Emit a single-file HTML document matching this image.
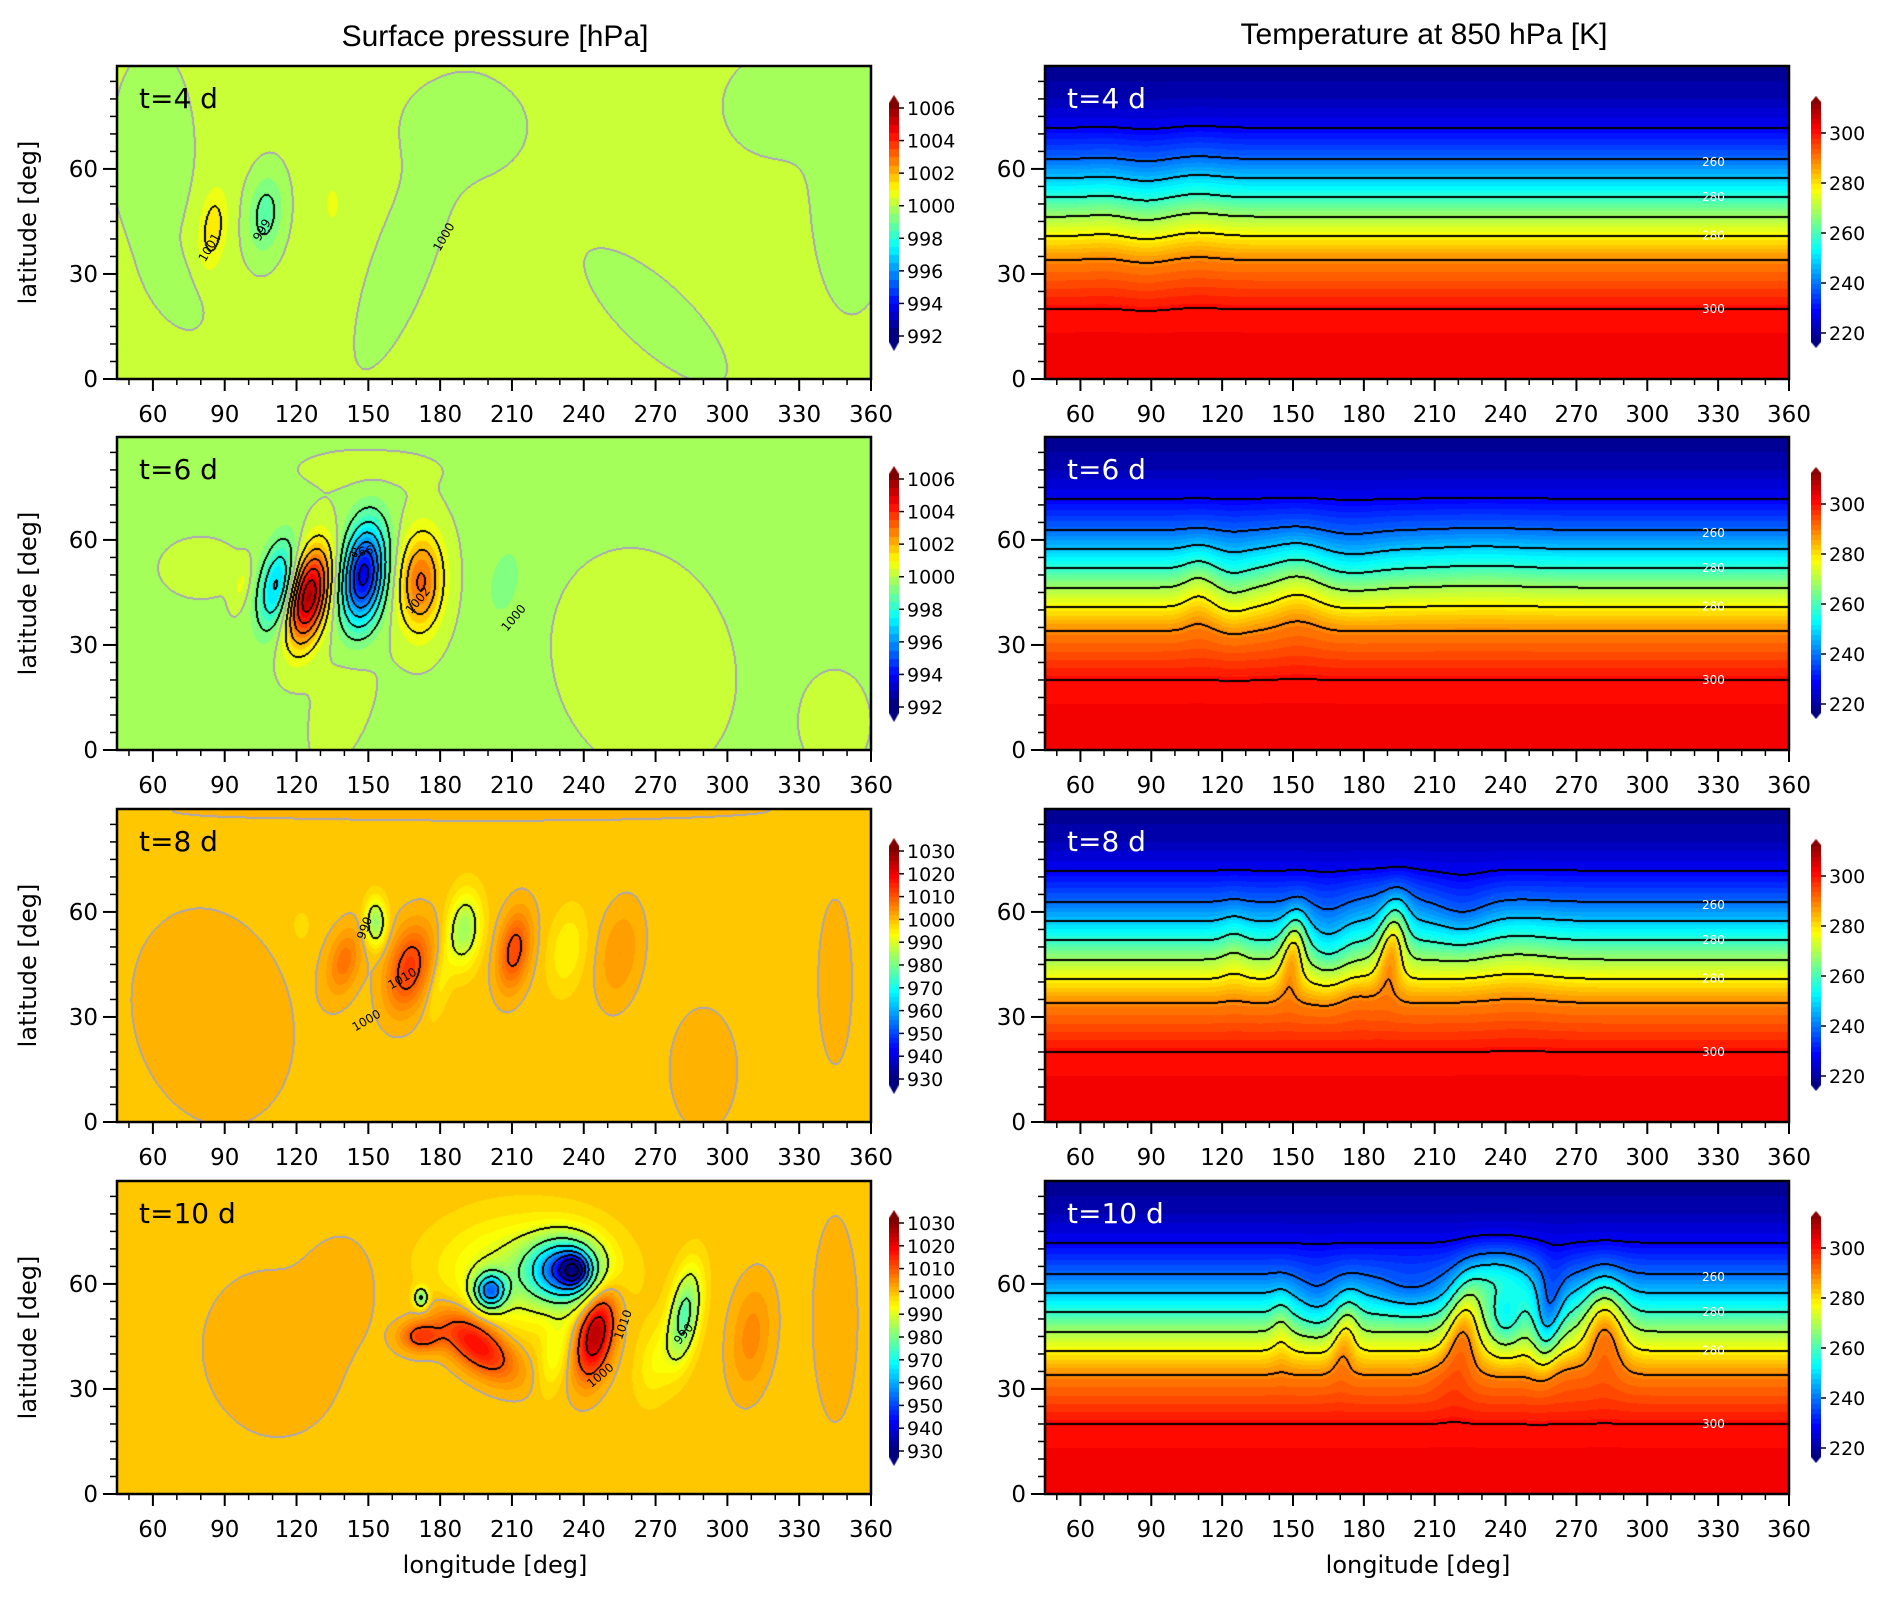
<!DOCTYPE html>
<html>
<head>
<meta charset="utf-8">
<style>
html,body{margin:0;padding:0;background:#fff;}
#fig{position:relative;width:1892px;height:1598px;overflow:hidden;background:#fff;font-family:"DejaVu Sans","Liberation Sans",sans-serif;}
canvas{position:absolute;}
svg{position:absolute;left:0;top:0;}
</style>
</head>
<body>
<div id="fig">
<svg id="ov" width="1892" height="1598"></svg>
</div>
<script>
// ---------- data ----------
const lonTicks = [60,90,120,150,180,210,240,270,300,330,360];
const latTicks = [0,30,60];
const dayLabels = ["t=4 d","t=6 d","t=8 d","t=10 d"];
const pBarTicksSmall = [992,994,996,998,1000,1002,1004,1006];
const pBarTicksLarge = [930,940,950,960,970,980,990,1000,1010,1020,1030];
const tBarTicks = [220,240,260,280,300];
// pressure anomaly features: [lon, lat, amplitude hPa, sigmaLon, sigmaLat, tiltDeg]
const pBase = [1000.12, 999.9, 999, 999];
const pFeat4d = [[85,43,1.25,4,8,10],[107,47,-1.45,5,8,10],[135,50,0.5,3,5,0],[60,65,-0.35,12,20,0],[190,72,-0.35,18,10,0],[165,35,-0.35,8,25,30],[270,18,-0.3,25,8,30],[352,55,-0.35,12,25,0],[320,78,-0.35,15,10,0],[70,25,-0.3,10,6,40]];
const pFeat6d = [[97,47,0.65,2.5,5,20],[112,47,-3.2,5,9,20],[125,44,5.8,5.5,10,20],[148,50,-6.2,6,10,12],[172,48,3.2,6.5,10,5],[207,48,-0.7,5,8,20],[265,25,0.35,25,20,20],[150,80,0.3,20,4,0],[140,15,0.3,8,15,30],[80,52,0.3,12,6,0],[345,8,0.3,10,10,0]];
const pFeat8d = [[153,57,-16,3,4.5,0],[140,46,8,4.5,7,25],[167,44,14,6,9,25],[190,55,-15,4.5,7,10],[211,49,13,4.5,8,15],[233,49,-5,5,8,15],[255,48,5,6,10,15],[122,56,-3,2.5,3,0],[180,40,-4,3,8,20],[85,30,2,30,25,30],[290,15,2,12,15,0],[345,40,2,6,20,0],[200,89,2,100,2.5,0]];
const pFeat10d = [[232,64,-42,10,6,0],[236,64,-28,4,3,0],[201,58,-38,4.5,3.5,0],[215,63,-12,22,10,0],[172,56,-20,2,2,0],[195,43,20,12,5,25],[172,45,14,6,3,0],[245,46,28,5,9,20],[282,51,-22,4,9,15],[310,45,6,6,11,10],[270,38,-5,5,8,20],[228,40,-6,4,8,20],[110,40,2,25,20,10],[345,50,2,8,25,0],[140,60,2,10,10,0]];
// temperature background profile
const tProfLat = [0,19.9,34,40.9,46.4,51.9,57.4,62.9,71.8,80,90];
const tProfVal = [304,301,289,278,269,258,248,239,228,222,218];
const tLineLevels = [301,289,278,269,258,248,239,228];
// meridional displacement features: [lon, lat, shift deg, sigmaLon, sigmaLat, tilt]
const tFeat4d = [[70,45,0.5,6,20,0],[88,45,-1,7,20,0],[110,48,1,8,20,0]];
const tFeat6d = [[110,45,3,5,10,0],[125,45,-1.5,5,12,0],[152,45,3.5,8,12,0],[175,55,-1.5,10,10,0],[230,55,0.8,15,10,0]];
const tFeat8d = [[125,50,2,4,10,0],[150,49,11,3.5,8,10],[165,50,-4,6,10,0],[192,51,13,4,9,10],[177,35,2,6,5,0],[222,60,-3,8,8,0],[245,45,1.5,12,15,0],[190,65,2,10,5,0]];
const tFeat10d = [[145,48,3,3,8,0],[172,45,7,3.5,8,10],[160,55,-4,6,8,0],[222,47,12,5,11,10],[238,62,10,10,7,0],[212,33,2,5,4,0],[282,48,13,6,10,0],[268,33,2,6,4,0],[258,50,-10,4,10,10],[200,58,-4,10,5,0],[240,50,-6,5,8,0]];
const pLabels = [
 [["1001",85,37,-60],["999",107,42,-60],["1000",183,40,-60]],
 [["998",147,58,170],["1002",172,42,-50],["1000",212,37,-50]],
 [["990",150,55,-70],["1010",165,40,-30],["1000",150,28,-30]],
 [["1010",258,48,-70],["990",283,45,-50],["1000",248,33,-40]]];
const tLabelText = ["260","280","280","300"];
const tLabelLat = [62,52,41,20];

// ---------- layout ----------
const ROWS=[66,437,809,1181], H=313, LATMAX=89.4, LON0=45, LON1=360;
const LX=117, LW=754, RX=1045, RW=744;
const fig=document.getElementById('fig'), ov=document.getElementById('ov');
const NS='http://www.w3.org/2000/svg';
function xS(x0,w,lon){return x0+(lon-LON0)/(LON1-LON0)*w;}
function yS(y0,lat){return y0+H-lat/LATMAX*H;}
function jet(x){x=Math.max(0,Math.min(1,x));const c=v=>Math.round(255*Math.max(0,Math.min(1,v)));
 return [c(1.5-Math.abs(4*x-3)),c(1.5-Math.abs(4*x-2)),c(1.5-Math.abs(4*x-1))];}
function featSum(f,lon,lat){let s=0;for(const q of f){const t=q[5]*Math.PI/180,dx=lon-q[0],dy=lat-q[1];
 const u=dx*Math.cos(t)-dy*Math.sin(t),w=dx*Math.sin(t)+dy*Math.cos(t);s+=q[2]*Math.exp(-0.5*(u*u/(q[3]*q[3])+w*w/(q[4]*q[4])));}return s;}
function prof(lat){if(lat<=tProfLat[0])return tProfVal[0];for(let i=1;i<tProfLat.length;i++){if(lat<=tProfLat[i]){const f=(lat-tProfLat[i-1])/(tProfLat[i]-tProfLat[i-1]);return tProfVal[i-1]+f*(tProfVal[i]-tProfVal[i-1]);}}return tProfVal[tProfVal.length-1];}
function el(tag,attrs,text){const e=document.createElementNS(NS,tag);for(const k in attrs)e.setAttribute(k,attrs[k]);if(text!==undefined)e.textContent=text;ov.appendChild(e);return e;}

function renderField(x0,y0,w,valFn,colFn,kFn,grayK,name){
 const cv=document.createElement('canvas');cv.width=w;cv.height=H;cv.style.left=x0+'px';cv.style.top=y0+'px';
 
 
 fig.insertBefore(cv,ov);
 const ctx=cv.getContext('2d'),img=ctx.createImageData(w,H),d=img.data;
 const V=new Float32Array(w*H),K=new Int32Array(w*H);
 for(let py=0;py<H;py++){const lat=(H-py-0.5)/H*LATMAX;for(let px=0;px<w;px++){const lon=LON0+(px+0.5)/w*(LON1-LON0);const v=valFn(lon,lat);V[py*w+px]=v;K[py*w+px]=kFn(v);}}
 for(let i=0;i<w*H;i++){const c=colFn(V[i]);d[4*i]=c[0];d[4*i+1]=c[1];d[4*i+2]=c[2];d[4*i+3]=255;}
 const mark=(i,gray)=>{if(gray){d[4*i]=170;d[4*i+1]=165;d[4*i+2]=185;}else{d[4*i]=0;d[4*i+1]=0;d[4*i+2]=0;}};
 for(let py=0;py<H;py++)for(let px=0;px<w;px++){const i=py*w+px,k=K[i];
  if(px<w-1&&K[i+1]!==k){const g=Math.max(k,K[i+1])===grayK;mark(i,g);mark(i+1,g);}
  if(py<H-1&&K[i+w]!==k){const g=Math.max(k,K[i+w])===grayK;mark(i,g);mark(i+w,g);}}
 ctx.putImageData(img,0,0);
}

function axes(x0,y0,w,showYTitle,label,labelColor,prefix){
 for(let lon=50;lon<=360;lon+=10){const major=lon%30===0;const x=xS(x0,w,lon);
  const t=el('line',{x1:x,x2:x,y1:y0+H,y2:y0+H+(major?12:6),stroke:'#000','stroke-width':major?2:1.5});
  
  }
 for(let lat=0;lat<=85;lat+=5){const major=lat%30===0;const y=yS(y0,lat);
  const t=el('line',{x1:x0-(major?14:7),x2:x0,y1:y,y2:y,stroke:'#000','stroke-width':major?2:1.5});
  
  }
 for(const lon of lonTicks){const t=el('text',{x:xS(x0,w,lon),y:y0+H+43,'text-anchor':'middle','font-size':23,'font-family':'DejaVu Sans, Liberation Sans, sans-serif'},String(lon));
  
  }
 for(const lat of latTicks){const t=el('text',{x:x0-19,y:yS(y0,lat)+8,'text-anchor':'end','font-size':23,'font-family':'DejaVu Sans, Liberation Sans, sans-serif'},String(lat));
  
  }
 const r=el('rect',{x:x0,y:y0,width:w,height:H,fill:'none',stroke:'#000','stroke-width':2.5});
 
 
 const tl=el('text',{x:x0+22,y:y0+42,'font-size':28,fill:labelColor,'font-family':'DejaVu Sans, Liberation Sans, sans-serif'},label);
 
 
 if(showYTitle){const yt=el('text',{x:0,y:0,transform:`translate(36,${y0+H/2}) rotate(-90)`,'text-anchor':'middle','font-size':24,'font-family':'DejaVu Sans, Liberation Sans, sans-serif'},'latitude [deg]');
  
  }
}

function colorbar(x,y0,vTop,vBot,offTop,offBot,tipT,bodyT,bodyB,tipB,colFn,ticks,prefix){
 const w=10;const cv=document.createElement('canvas');cv.width=w;cv.height=tipB-tipT;cv.style.left=x+'px';cv.style.top=(y0+tipT)+'px';
 
 
 fig.insertBefore(cv,ov);const ctx=cv.getContext('2d');
 ctx.beginPath();ctx.moveTo(w/2,0);ctx.lineTo(w,bodyT-tipT);ctx.lineTo(w,bodyB-tipT);ctx.lineTo(w/2,tipB-tipT);ctx.lineTo(0,bodyB-tipT);ctx.lineTo(0,bodyT-tipT);ctx.closePath();ctx.clip();
 for(let yy=0;yy<tipB-tipT;yy++){const off=yy+tipT;const v=vTop-(off-offTop)*(vTop-vBot)/(offBot-offTop);const c=colFn(v);ctx.fillStyle=`rgb(${c[0]},${c[1]},${c[2]})`;ctx.fillRect(0,yy,w,1);}
 for(const t of ticks){const y=y0+offTop+(vTop-t)/(vTop-vBot)*(offBot-offTop);
  const tk=el('line',{x1:x+w,x2:x+w+5,y1:y,y2:y,stroke:'#000','stroke-width':1.5});
  
  
  const lb=el('text',{x:x+w+8,y:y+7,'font-size':19,'font-family':'DejaVu Sans, Liberation Sans, sans-serif'},String(t));
  
  }
}

{const a=el('text',{x:495,y:46,'text-anchor':'middle','font-size':30,'font-family':'Liberation Sans, sans-serif'},'Surface pressure [hPa]');
 
 
 const b=el('text',{x:1424,y:44,'text-anchor':'middle','font-size':30,'font-family':'Liberation Sans, sans-serif'},'Temperature at 850 hPa [K]');
 
 
 const c=el('text',{x:495,y:1573,'text-anchor':'middle','font-size':24,'font-family':'DejaVu Sans, Liberation Sans, sans-serif'},'longitude [deg]');
 
 
 const e=el('text',{x:1418,y:1573,'text-anchor':'middle','font-size':24,'font-family':'DejaVu Sans, Liberation Sans, sans-serif'},'longitude [deg]');
 
 }

const pFeats=[pFeat4d,pFeat6d,pFeat8d,pFeat10d];
const tFeats=[tFeat4d,tFeat6d,tFeat8d,tFeat10d];
function pCol(small){const vmin=small?992:930,vmax=small?1006:1030,step=small?0.5:2;
 return v=>{const l=Math.floor(v/step)*step;return jet((l-vmin)/(vmax-vmin));};}
const tCol=v=>{const l=Math.floor(v/2)*2;return jet((l-216)/(313-216));};

for(let r=0;r<4;r++){
 const y0=ROWS[r],small=r<2,f=pFeats[r],base=pBase[r];
 const cs=small?1:10;
 renderField(LX,y0,LW,(lon,lat)=>base+featSum(f,lon,lat),pCol(small),v=>Math.floor((v-1000)/cs),0,'pressure-field-'+(r*2+4)+'d');
 axes(LX,y0,LW,true,dayLabels[r],'#000','pressure-'+(r*2+4)+'d');
 for(const L of pLabels[r]){const x=xS(LX,LW,L[1]),y=yS(y0,L[2]);
  const t=el('text',{x:0,y:0,transform:`translate(${x},${y}) rotate(${L[3]})`,'text-anchor':'middle','font-size':12,'font-family':'DejaVu Sans, sans-serif'},L[0]);
  
  }
 colorbar(889,y0,small?1006:1030,small?992:930,42,270,29,37,276,285,pCol(small),small?pBarTicksSmall:pBarTicksLarge,'pressure-'+(r*2+4)+'d');

 const tf=tFeats[r];
 renderField(RX,y0,RW,(lon,lat)=>prof(lat-featSum(tf,lon,lat)),tCol,v=>{let k=0;for(const L of tLineLevels)if(v>=L)k++;return k;},-999,'temperature-field-'+(r*2+4)+'d');
 axes(RX,y0,RW,false,dayLabels[r],'#fff','temperature-'+(r*2+4)+'d');
 for(let i=0;i<tLabelText.length;i++){const t=el('text',{x:xS(RX,RW,328),y:yS(y0,tLabelLat[i])+4,'text-anchor':'middle','font-size':12,fill:'#fff','font-family':'DejaVu Sans, sans-serif'},tLabelText[i]);
  
  }
 colorbar(1811,y0,300,220,67,267,30,36,276,282,tCol,tBarTicks,'temperature-'+(r*2+4)+'d');
}
</script>
</body>
</html>
